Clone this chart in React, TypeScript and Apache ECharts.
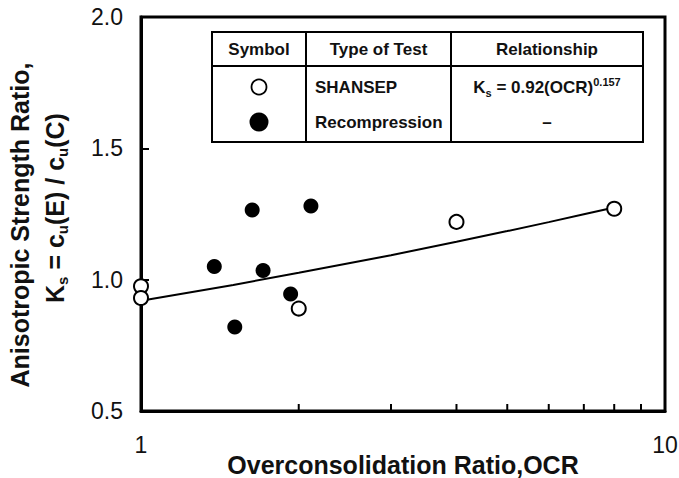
import React, { useEffect, useRef } from "react";
import * as echarts from "echarts";

// ---- Data ----
const shansepOCR = [1, 1, 2.0, 4.0, 8.0];
const shansepKs = [0.975, 0.93, 0.89, 1.22, 1.27];

const recompOCR = [1.38, 1.51, 1.63, 1.71, 1.93, 2.11];
const recompKs = [1.05, 0.82, 1.265, 1.035, 0.945, 1.28];

// Fitted relationship Ks = 0.92(OCR)^0.157
const fitOCR = [1, 1.5, 2, 3, 4, 5, 6, 7, 8];
const fitKs = [0.92, 0.98, 1.026, 1.093, 1.144, 1.185, 1.219, 1.249, 1.275];

// Axis ticks
const xMin = 1;
const xMax = 10;
const yMin = 0.5;
const yMax = 2.0;
const yInterval = 0.5;
const xMinorTicks = [2, 3, 4, 5, 6, 7, 8, 9];

// Legend table texts
const tableHeaders = ["Symbol", "Type of Test", "Relationship"];
const testTypes = ["SHANSEP", "Recompression"];

const FONT = "'Liberation Sans', Arial, Helvetica, sans-serif";
const INK = "#111";

export default function App() {
  const ref = useRef<HTMLDivElement>(null);

  useEffect(() => {
    if (!ref.current) return;
    const chart = echarts.init(ref.current, undefined, { renderer: "svg" });

    // table geometry
    const tL = 212, tR = 643, tT = 32, tB = 142, tH = 66;
    const c1 = 306, c2 = 451;
    const hY = 49, r1Y = 87, r2Y = 122;
    const col1C = (tL + c1) / 2;
    const col2C = (c1 + c2) / 2;
    const col3C = (c2 + tR) / 2;

    const headerText = (text: string, x: number) => ({
      type: "text",
      x,
      y: hY,
      z: 100,
      style: {
        text,
        fill: INK,
        font: `bold 17px ${FONT}`,
        align: "center",
        verticalAlign: "middle",
        textAlign: "center",
        textVerticalAlign: "middle",
      },
    });

    const option: any = {
      animation: false,
      backgroundColor: "#fff",
      grid: {
        left: 141,
        top: 17,
        right: 14,
        bottom: 67,
        show: true,
        borderColor: "#000",
        borderWidth: 3,
        backgroundColor: "transparent",
        containLabel: false,
        outerBoundsMode: "none",
      },
      xAxis: {
        type: "log",
        logBase: 10,
        min: xMin,
        max: xMax,
        name: "Overconsolidation Ratio,OCR",
        nameLocation: "middle",
        nameGap: 41,
        nameMoveOverlap: false,
        nameTextStyle: {
          fontSize: 25,
          fontWeight: "bold",
          fontFamily: FONT,
          color: INK,
        },
        axisLine: { show: true, lineStyle: { color: "#000", width: 3 } },
        axisTick: { show: true, inside: true, length: 7, lineStyle: { color: "#000", width: 2 } },
        axisLabel: {
          fontSize: 23,
          fontFamily: FONT,
          color: INK,
          margin: 22,
          showMinLabel: true,
          showMaxLabel: true,
        },
        splitLine: { show: false },
        minorTick: { show: false },
      },
      yAxis: {
        type: "value",
        min: yMin,
        max: yMax,
        interval: yInterval,
        axisLine: { show: true, lineStyle: { color: "#000", width: 3 } },
        axisTick: { show: true, inside: true, length: 8, lineStyle: { color: "#000", width: 2 } },
        axisLabel: {
          fontSize: 23,
          fontFamily: FONT,
          color: INK,
          margin: 18,
          formatter: (v: number) => v.toFixed(1),
        },
        splitLine: { show: false },
      },
      graphic: [
        // Y axis title, line 1
        {
          type: "text",
          x: 20,
          y: 225,
          rotation: Math.PI / 2,
          style: {
            text: "Anisotropic Strength Ratio,",
            fill: INK,
            font: `bold 25px ${FONT}`,
            align: "center",
            verticalAlign: "middle",
            textAlign: "center",
            textVerticalAlign: "middle",
          },
        },
        // Y axis title, line 2
        {
          type: "text",
          x: 55,
          y: 208,
          rotation: Math.PI / 2,
          style: {
            text: "K{sub|s} = c{sub|u}(E) / c{sub|u}(C)",
            fill: INK,
            font: `bold 25px ${FONT}`,
            fontSize: 25,
            fontWeight: "bold",
            fontFamily: FONT,
            lineHeight: 30,
            align: "center",
            verticalAlign: "middle",
            textAlign: "center",
            textVerticalAlign: "middle",
            rich: {
              sub: {
                fontSize: 15,
                fontWeight: "bold",
                fontFamily: FONT,
                fill: INK,
                lineHeight: 15,
                verticalAlign: "bottom",
              },
            },
          },
        },
        // Legend table frame
        {
          type: "rect",
          z: 100,
          shape: { x: tL, y: tT, width: tR - tL, height: tB - tT },
          style: { fill: "#fff", stroke: "#000", lineWidth: 2 },
        },
        {
          type: "line",
          z: 100,
          shape: { x1: tL, y1: tH, x2: tR, y2: tH },
          style: { stroke: "#000", lineWidth: 2 },
        },
        {
          type: "line",
          z: 100,
          shape: { x1: c1, y1: tT, x2: c1, y2: tB },
          style: { stroke: "#000", lineWidth: 2 },
        },
        {
          type: "line",
          z: 100,
          shape: { x1: c2, y1: tT, x2: c2, y2: tB },
          style: { stroke: "#000", lineWidth: 2 },
        },
        headerText(tableHeaders[0], col1C),
        headerText(tableHeaders[1], col2C),
        headerText(tableHeaders[2], col3C),
        {
          type: "circle",
          z: 100,
          shape: { cx: col1C, cy: r1Y, r: 7.5 },
          style: { fill: "#fff", stroke: "#000", lineWidth: 1.8 },
        },
        {
          type: "circle",
          z: 100,
          shape: { cx: col1C, cy: r2Y, r: 9.5 },
          style: { fill: "#000" },
        },
        {
          type: "text",
          x: 315,
          y: r1Y,
          z: 100,
          style: {
            text: testTypes[0],
            fill: INK,
            font: `bold 17px ${FONT}`,
            align: "left",
            verticalAlign: "middle",
            textAlign: "left",
            textVerticalAlign: "middle",
          },
        },
        {
          type: "text",
          x: 315,
          y: r2Y,
          z: 100,
          style: {
            text: testTypes[1],
            fill: INK,
            font: `bold 17px ${FONT}`,
            align: "left",
            verticalAlign: "middle",
            textAlign: "left",
            textVerticalAlign: "middle",
          },
        },
        {
          type: "text",
          x: col3C,
          y: r1Y,
          z: 100,
          style: {
            text: "K{sub|s} = 0.92(OCR){sup|0.157}",
            fill: INK,
            font: `bold 17px ${FONT}`,
            fontSize: 17,
            fontWeight: "bold",
            fontFamily: FONT,
            lineHeight: 22,
            align: "center",
            verticalAlign: "middle",
            textAlign: "center",
            textVerticalAlign: "middle",
            rich: {
              sub: {
                fontSize: 11,
                fontWeight: "bold",
                fontFamily: FONT,
                fill: INK,
                lineHeight: 11,
                verticalAlign: "bottom",
              },
              sup: {
                fontSize: 11,
                fontWeight: "bold",
                fontFamily: FONT,
                fill: INK,
                lineHeight: 11,
                verticalAlign: "top",
              },
            },
          },
        },
        {
          type: "text",
          x: col3C,
          y: r2Y,
          z: 100,
          style: {
            text: "–",
            fill: INK,
            font: `bold 17px ${FONT}`,
            align: "center",
            verticalAlign: "middle",
            textAlign: "center",
            textVerticalAlign: "middle",
          },
        },
      ],
      series: [
        {
          name: "Fit",
          type: "line",
          data: fitOCR.map((x, i) => [x, fitKs[i]]),
          showSymbol: false,
          symbol: "none",
          smooth: false,
          lineStyle: { color: "#000", width: 2 },
          z: 3,
        },
        {
          name: "Minor ticks",
          type: "custom",
          clip: false,
          silent: true,
          data: xMinorTicks.map((v) => [v, yMin]),
          renderItem: (params: any, api: any) => {
            const p = api.coord([api.value(0), api.value(1)]);
            return {
              type: "line",
              shape: { x1: p[0], y1: p[1] - 1, x2: p[0], y2: p[1] - 7 },
              style: { stroke: "#000", lineWidth: 2 },
            };
          },
          z: 3,
        },
        {
          name: "Recompression",
          type: "scatter",
          data: recompOCR.map((x, i) => [x, recompKs[i]]),
          symbol: "circle",
          symbolSize: 15,
          itemStyle: { color: "#000", opacity: 1 },
          clip: false,
          z: 5,
        },
        {
          name: "SHANSEP",
          type: "scatter",
          data: shansepOCR.map((x, i) => [x, shansepKs[i]]),
          symbol: "circle",
          symbolSize: 14,
          itemStyle: { color: "#fff", borderColor: "#000", borderWidth: 2, opacity: 1 },
          clip: false,
          z: 6,
        },
      ],
    };

    chart.setOption(option);
    return () => chart.dispose();
  }, []);

  return (
    <div
      ref={ref}
      style={{ position: "fixed", left: 0, top: 0, width: 679, height: 478, background: "#fff" }}
    />
  );
}
